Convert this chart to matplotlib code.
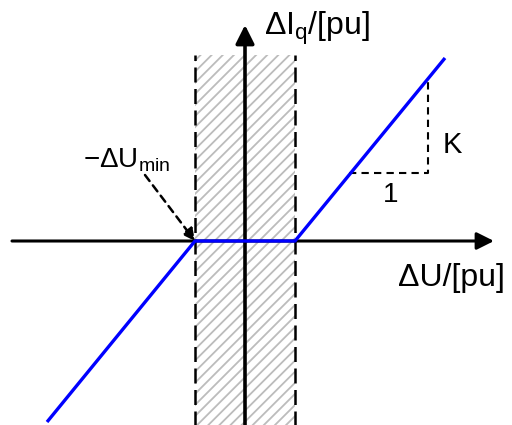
import matplotlib
matplotlib.use("Agg")
import matplotlib.pyplot as plt
from matplotlib.patches import Rectangle

plt.rcParams['font.family'] = ['Liberation Sans', 'DejaVu Sans']
plt.rcParams['hatch.linewidth'] = 1.3

# characteristic: deadband -1..1, slope K outside
curve_x = [-3.96, -1.0, 1.0, 4.0]
curve_y = [-3.62, 0.0, 0.0, 3.66]
deadband = [-1.0, 1.0]
band_y = [-3.8, 3.72]
slope_x = [2.08, 3.66, 3.66]
slope_y = [1.36, 1.36, 3.26]

fig = plt.figure(figsize=(5.12, 4.25), dpi=100)
ax = fig.add_axes([0, 0, 1, 1])
ax.set_xlim(-4.9, 5.34)
ax.set_ylim(-3.68, 4.82)
ax.axis('off')

# hatched deadband
ax.add_patch(Rectangle((deadband[0], band_y[0]), deadband[1] - deadband[0],
                       band_y[1] - band_y[0], facecolor='white',
                       edgecolor='#bcbcbc', hatch='///', linewidth=0, zorder=1))
for xb in deadband:
    ax.plot([xb, xb], band_y, color='black', lw=1.8, ls=(0, (6, 2.6)), zorder=2)

# axes with arrows
ax.annotate('', xy=(4.98, 0), xytext=(-4.66, 0),
            arrowprops=dict(arrowstyle='-|>', lw=2.2, color='black',
                            mutation_scale=26, shrinkA=0, shrinkB=0), zorder=3)
ax.annotate('', xy=(0, 4.32), xytext=(0, -3.8),
            arrowprops=dict(arrowstyle='-|>', lw=2.6, color='black',
                            mutation_scale=28, shrinkA=0, shrinkB=0), zorder=3)

# characteristic curve
ax.plot(curve_x, curve_y, color='#0000ff', lw=2.4, zorder=4, solid_capstyle='butt')

# slope triangle
ax.plot(slope_x, slope_y, color='black', lw=1.5, ls=(0, (3.5, 2.5)), zorder=3)
ax.text(3.96, 1.76, 'K', fontsize=21, ha='left', va='baseline')
ax.text(2.92, 0.78, '1', fontsize=20, ha='center', va='baseline')

# -dU_min marker
ax.annotate('', xy=(-1.0, 0.0), xytext=(-2.0, 1.32),
            arrowprops=dict(arrowstyle='-|>', lw=1.8, color='black',
                            ls=(0, (3, 2.2)), mutation_scale=18,
                            shrinkA=0, shrinkB=0), zorder=5)
ax.text(-3.24, 1.48, '−ΔU$_\\mathregular{min}$', fontsize=20, ha='left', va='baseline')

# axis labels
ax.text(0.38, 4.12, 'ΔI$_\\mathregular{q}$/[pu]', fontsize=23, ha='left', va='baseline')
ax.text(3.06, -0.9, 'ΔU/[pu]', fontsize=23, ha='left', va='baseline')

fig.savefig('out.png', dpi=100)
